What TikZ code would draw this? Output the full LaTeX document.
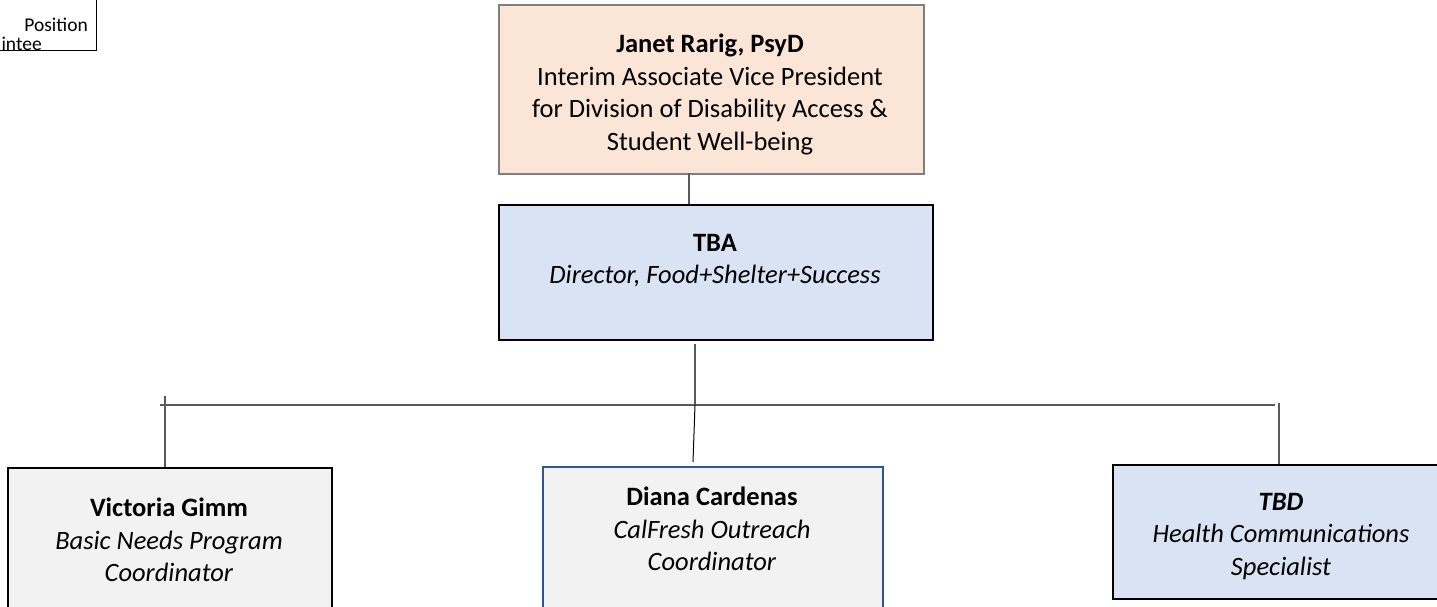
\documentclass[tikz,border=0pt]{standalone}
\usepackage{fontspec}
\setmainfont{Carlito}
\definecolor{peach}{HTML}{FBE5D6}
\definecolor{paleblue}{HTML}{DAE3F3}
\definecolor{palegray}{HTML}{F2F2F2}
\definecolor{framegray}{HTML}{7F7F7F}
\definecolor{linkgray}{HTML}{595959}
\definecolor{frameblue}{HTML}{2F5597}
\begin{document}
\begin{tikzpicture}[x=1pt,y=-1pt,
	box/.style={draw,line width=2.4pt,inner sep=0pt,anchor=north west},
	txt/.style={align=center,inner sep=0pt,anchor=north,font=\fontsize{26.5}{32.5}\selectfont},
	link/.style={draw=linkgray,line width=1.5pt}]
	\useasboundingbox (0,0) rectangle (1437,606);
	\clip (0,0) rectangle (1437,606);
	% legend, cut by the page edge
	\node[draw,line width=1.5pt,inner sep=0pt,anchor=south east,minimum width=160pt,minimum height=100pt] (legend) at (97,51) {};
	\node[anchor=base east,inner sep=0pt,font=\fontsize{19.5}{24}\selectfont] (legendpos) at (88,31) {Position};
	\node[anchor=base east,inner sep=0pt,font=\fontsize{19.5}{24}\selectfont] (legendapp) at (42,50) {intee};
	% boxes
	\node[box,draw=framegray,fill=peach,minimum width=425pt,minimum height=169pt] (janet) at (498,4) {};
	\node[box,fill=paleblue,minimum width=434pt,minimum height=135pt] (tba) at (498,204) {};
	\node[box,fill=palegray,minimum width=324pt,minimum height=200pt] (victoria) at (7,467) {};
	\node[box,draw=frameblue,line width=1.8pt,fill=palegray,minimum width=340pt,minimum height=200pt] (diana) at (542,466) {};
	\node[box,fill=paleblue,minimum width=338pt,minimum height=134pt] (tbd) at (1112,464) {};
	% texts
	\node[txt] (janettxt) at (710,34) {\textbf{Janet Rarig, PsyD}\\Interim Associate Vice President\\for Division of Disability Access \&\\Student Well-being};
	\node[txt] (tbatxt) at (715,234) {\textbf{TBA}\\\textit{Director, Food+Shelter+Success}};
	\node[txt] (victoriatxt) at (169,498) {\textbf{Victoria Gimm}\\\textit{Basic Needs Program}\\\textit{Coordinator}};
	\node[txt] (dianatxt) at (712,487) {\textbf{Diana Cardenas}\\\textit{CalFresh Outreach}\\\textit{Coordinator}};
	\node[txt] (tbdtxt) at (1281,493) {\textbf{\textit{TBD}}\\\textit{Health Communications}\\\textit{Specialist}};
	% connectors
	\coordinate (busl) at (160,405);
	\coordinate (busr) at (1275,405);
	\coordinate (tbaout) at (695,344);
	\coordinate (busmid) at (695,405);
	\coordinate (dropv) at (165,396);
	\coordinate (dropt) at (1279,403);
	\draw[link] (689,173) -- (689,204);
	\draw[link] (busl) -- (busr);
	\draw[link] (tbaout) -- (busmid);
	\draw[draw=black,line width=1pt] (busmid) -- (693,462);
	\draw[link] (dropv) -- (dropv |- victoria.north);
	\draw[link] (dropt) -- (dropt |- tbd.north);
\end{tikzpicture}
\end{document}
